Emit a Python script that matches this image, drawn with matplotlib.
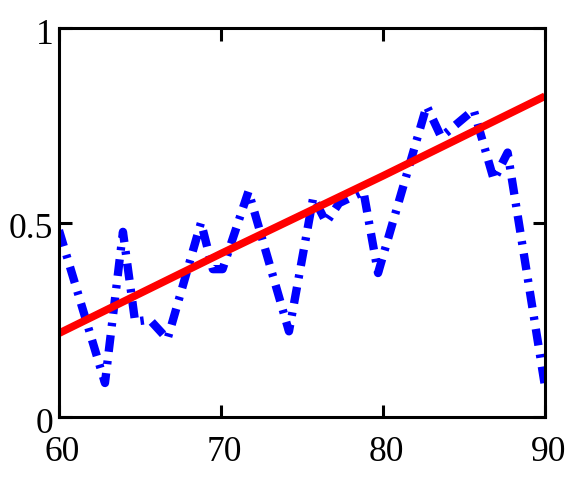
import matplotlib
matplotlib.use("Agg")
import matplotlib.pyplot as plt
import matplotlib.transforms as mtransforms

# blue wiggly series
blue_x = [60, 62.84, 63.95, 64.7, 65.6, 66.7, 68.77, 69.5, 70.1, 71.7, 74.2,
          75.7, 76.5, 77.3, 78.8, 79.7, 82.7, 83.6, 85.6, 86.85, 87.7, 90]
blue_y = [0.48, 0.087, 0.476, 0.245, 0.25, 0.20, 0.50, 0.38, 0.38, 0.58, 0.22,
          0.565, 0.50, 0.55, 0.58, 0.37, 0.80, 0.72, 0.79, 0.61, 0.68, 0.08]

# red trend line
red_x = [60, 70, 80, 90]
red_y = [0.215, 0.42, 0.62, 0.825]

xticks = [60, 70, 80, 90]
xticklabels = ["60", "70", "80", "90"]
yticks = [0, 0.5, 1]
yticklabels = ["0", "0.5", "1"]

plt.rcParams["font.family"] = ["Liberation Serif", "DejaVu Serif"]
plt.rcParams["lines.scale_dashes"] = False

fig = plt.figure(figsize=(5.67, 4.78), dpi=100)
ax = fig.add_axes([0.104, 0.128, 0.857, 0.813])

ax.plot(blue_x, blue_y, color="#0000ff", linewidth=6,
        dashes=(12, 6.5, 2.5, 6.5), dash_capstyle="butt", solid_joinstyle="miter")
ax.plot(red_x, red_y, color="#ff0000", linewidth=5.5, solid_capstyle="butt")

ax.set_xlim(60, 90)
ax.set_ylim(0, 1)
ax.set_xticks(xticks)
ax.set_xticklabels(xticklabels)
ax.set_yticks(yticks)
ax.set_yticklabels(yticklabels)
ax.tick_params(direction="in", length=9, width=2.2, top=True, right=True,
               labelsize=25.5)
ax.tick_params(axis="x", pad=14)
ax.tick_params(axis="y", pad=4)
for s in ax.spines.values():
    s.set_linewidth(2.2)

# labels sit a little right / below their ticks in the original
xoff = mtransforms.ScaledTranslation(2.5 / 72, 0, fig.dpi_scale_trans)
yoff = mtransforms.ScaledTranslation(0, -2.5 / 72, fig.dpi_scale_trans)
for lab in ax.get_xticklabels():
    lab.set_transform(lab.get_transform() + xoff)
for lab in ax.get_yticklabels():
    lab.set_transform(lab.get_transform() + yoff)

fig.savefig("out.png", dpi=100)
